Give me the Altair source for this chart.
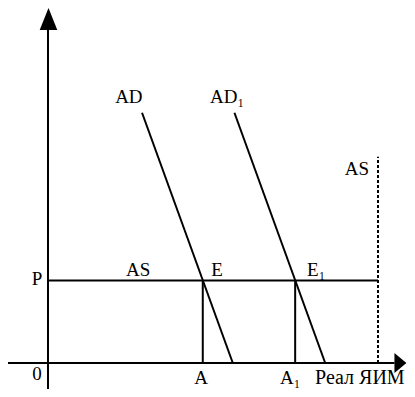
import altair as alt
import pandas as pd

# ---- values (abstract units) ----
P_LEVEL = 3.0                 # price level P (horizontal AS)
AD_Q = [2.85, 5.6]            # AD curve: quantity at top / bottom
AD_P = [9.1, 0.0]
AD1_Q = [5.65, 8.4]           # AD1 curve
AD1_P = [9.1, 0.0]
Q_A = 4.69                    # equilibrium output A
Q_A1 = 7.49                   # equilibrium output A1
Q_FULL = 10.0                 # vertical AS (potential output)
AS_V_TOP = 7.5
X_AXIS = [-1.24, 10.5]        # extent of the horizontal axis
Y_AXIS = [-1.2, 12.4]         # extent of the vertical axis

label_text = ["AD", "AD\u2081", "AS", "AS", "E", "E\u2081", "P", "0", "A", "A\u2081"]
label_q = [2.45, 4.91, 9.36, 2.73, 5.12, 7.85, -0.33, -0.33, 4.64, 7.03]
label_p = [9.45, 9.45, 6.84, 3.16, 3.16, 3.16, 2.84, -0.62, -0.76, -0.76]
label_align = ["center", "left", "center", "center", "center", "left", "center", "center", "center", "left"]
axis_title = "Реал ЯИМ"

xs = alt.Scale(domain=[-1.2121, 10.879], nice=False, zero=False)
ys = alt.Scale(domain=[-0.9455, 12.909], nice=False, zero=False)

segs = pd.DataFrame({
    "x":  [X_AXIS[0], 0.0, AD_Q[0], AD1_Q[0], 0.0, Q_A, Q_A1],
    "x2": [X_AXIS[1], 0.0, AD_Q[1], AD1_Q[1], Q_FULL, Q_A, Q_A1],
    "y":  [0.0, Y_AXIS[0], AD_P[0], AD1_P[0], P_LEVEL, 0.0, 0.0],
    "y2": [0.0, Y_AXIS[1], AD_P[1], AD1_P[1], P_LEVEL, P_LEVEL, P_LEVEL],
})

solid = alt.Chart(segs).mark_rule(color="black", strokeWidth=2).encode(
    x=alt.X("x:Q", scale=xs, axis=None),
    x2="x2",
    y=alt.Y("y:Q", scale=ys, axis=None),
    y2="y2",
)

dashed = alt.Chart(pd.DataFrame({"x": [Q_FULL], "y": [0.0], "y2": [AS_V_TOP]})).mark_rule(
    color="black", strokeWidth=2, strokeDash=[3, 2]
).encode(
    x=alt.X("x:Q", scale=xs, axis=None),
    y=alt.Y("y:Q", scale=ys, axis=None),
    y2="y2",
)

arrow_x = alt.Chart(pd.DataFrame({"x": [10.68], "y": [0.0]})).mark_point(
    shape="M-0.6,-1L0.6,0L-0.6,1Z", size=400, filled=True, color="black", opacity=1
).encode(x=alt.X("x:Q", scale=xs, axis=None), y=alt.Y("y:Q", scale=ys, axis=None))

arrow_y = alt.Chart(pd.DataFrame({"x": [0.015], "y": [12.51]})).mark_point(
    shape="M0,-1L0.8,1L-0.8,1Z", size=484, filled=True, color="black", opacity=1
).encode(x=alt.X("x:Q", scale=xs, axis=None), y=alt.Y("y:Q", scale=ys, axis=None))

labels_df = pd.DataFrame({"t": label_text, "x": label_q, "y": label_p, "a": label_align})
layers = [solid, dashed, arrow_x, arrow_y]
for al in ["center", "left"]:
    layers.append(
        alt.Chart(labels_df[labels_df.a == al]).mark_text(
            font="Liberation Serif", fontSize=19, color="black", align=al, baseline="alphabetic"
        ).encode(x=alt.X("x:Q", scale=xs, axis=None), y=alt.Y("y:Q", scale=ys, axis=None), text="t")
    )

title_txt = alt.Chart(pd.DataFrame({"t": [axis_title], "x": [9.45], "y": [-0.76]})).mark_text(
    font="Liberation Serif", fontSize=20, color="black", align="center", baseline="alphabetic"
).encode(x=alt.X("x:Q", scale=xs, axis=None), y=alt.Y("y:Q", scale=ys, axis=None), text="t")
layers.append(title_txt)

chart = alt.layer(*layers).properties(
    width=399, height=381, padding=0, autosize=alt.AutoSizeParams(type="none")
).configure_view(stroke=None)

chart.save("out.html", embed_options={"renderer": "svg", "actions": False})
